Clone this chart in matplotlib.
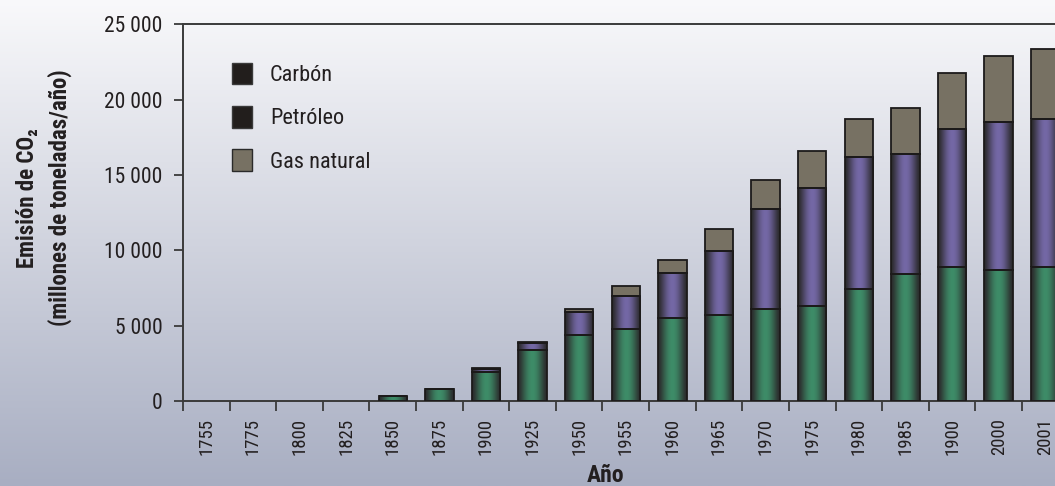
import numpy as np
import matplotlib
matplotlib.use("Agg")
import matplotlib.pyplot as plt
from matplotlib import font_manager
from matplotlib.patches import Patch
from matplotlib.colors import to_rgb

# --- data (millions of tonnes of CO2 per year) ---
years = ["1755", "1775", "1800", "1825", "1850", "1875", "1900", "1925", "1950",
         "1955", "1960", "1965", "1970", "1975", "1980", "1985", "1900", "2000", "2001"]
carbon = [0, 0, 0, 0, 300, 780, 1950, 3410, 4360,
          4810, 5480, 5720, 6120, 6320, 7410, 8450, 8910, 8680, 8910]
petroleo = [0, 0, 0, 0, 30, 20, 200, 450, 1520,
            2165, 2990, 4220, 6630, 7830, 8770, 7920, 9170, 9850, 9810]
gas = [0, 0, 0, 0, 0, 0, 40, 30, 250,
       650, 860, 1450, 1910, 2430, 2550, 3100, 3710, 4390, 4620]
yticks = [0, 5000, 10000, 15000, 20000, 25000]
ytick_labels = ["0", "5 000", "10 000", "15 000", "20 000", "25 000"]
series_names = ["Carbón", "Petróleo", "Gas natural"]

# --- font choice: a narrow sans if one is installed ---
available = {f.name for f in font_manager.fontManager.ttflist}
base = "DejaVu Sans"
for cand in ["Liberation Sans Narrow", "DejaVu Sans Condensed", "Roboto Condensed",
             "Open Sans Condensed", "Noto Sans"]:
    if cand in available:
        base = cand
        break
plt.rcParams["font.family"] = [base, "DejaVu Sans"]
TXT = "#231f20"

W, H = 1055, 486
fig = plt.figure(figsize=(W / 100, H / 100), dpi=100)

# page background: vertical gradient
bg = fig.add_axes([0, 0, 1, 1], zorder=-10)
top_c = np.array(to_rgb("#f9f9fb"))
bot_c = np.array(to_rgb("#a8aec2"))
t = np.linspace(0, 1, 256)[:, None]
grad = (top_c[None, :] * (1 - t) + bot_c[None, :] * t)[:, None, :]
bg.imshow(grad, aspect="auto", extent=[0, 1, 0, 1])
bg.set_axis_off()

x0, x1 = 183, 1068.6
yb, yt = 401, 24.3
ax = fig.add_axes([x0 / W, (H - yb) / H, (x1 - x0) / W, (yb - yt) / H])
ax.set_facecolor("none")

n = len(years)
x = np.arange(n)
bw = 0.61

dark = np.array(to_rgb("#2b2a2c"))


def hgrad(center):
    c = np.array(to_rgb(center))
    s = np.linspace(0, 1, 64)
    w = np.sin(np.pi * s) ** 1.4
    row = dark[None, :] * (1 - w[:, None]) + c[None, :] * w[:, None]
    return row[None, :, :]


carbon_a = np.array(carbon, float)
pet_a = np.array(petroleo, float)
gas_a = np.array(gas, float)

layers = [
    (carbon_a, np.zeros(n), "#3e8c68", True),
    (pet_a, carbon_a, "#7468a6", True),
    (gas_a, carbon_a + pet_a, "#777163", False),
]
for vals, bottom, col, shaded in layers:
    bars = ax.bar(x, vals, bw, bottom=bottom, color=col, edgecolor="none",
                  linewidth=0, zorder=2)
    if shaded:
        img = hgrad(col)
        for r in bars:
            if r.get_height() <= 0:
                continue
            im = ax.imshow(img, aspect="auto", zorder=2.5,
                           extent=[r.get_x(), r.get_x() + r.get_width(),
                                   r.get_y(), r.get_y() + r.get_height()])
            im.set_clip_path(r)
    outlines = ax.bar(x, vals, bw, bottom=bottom, fill=False, edgecolor="#1c1a1a",
                      linewidth=1.3, zorder=3)
    for r in outlines:
        if r.get_height() <= 0:
            r.set_visible(False)

ax.set_xlim(-0.5, n - 0.5)
ax.set_ylim(0, 25000)

# axes frame
for side in ["left", "bottom", "top"]:
    ax.spines[side].set_color("#3a3a3a")
    ax.spines[side].set_linewidth(1.4)
ax.spines["right"].set_visible(False)

ax.set_yticks(yticks)
ax.set_yticklabels(ytick_labels, fontsize=15.5, color=TXT)
ax.tick_params(axis="y", length=6.5, width=1.3, color="#3a3a3a", pad=8)

# x ticks: marks between categories, labels centred on categories
ax.set_xticks(np.arange(n + 1) - 0.5)
ax.set_xticklabels([])
ax.tick_params(axis="x", which="major", length=7.2, width=1.3, color="#3a3a3a")
ax.set_xticks(x, minor=True)
ax.set_xticklabels(years, minor=True, rotation=90, fontsize=13.5, color=TXT)
ax.tick_params(axis="x", which="minor", length=0, pad=12)

# axis titles
fig.text(606 / W, 1 - 475 / H, "Año", ha="center", va="center",
         fontsize=17, fontweight="bold", color=TXT)
fig.text(27 / W, 1 - 198 / H, "Emisión de CO₂", rotation=90, ha="center",
         va="center", fontsize=16.5, fontweight="bold", color=TXT)
fig.text(60 / W, 1 - 198 / H, "(millones de toneladas/año)", rotation=90,
         ha="center", va="center", fontsize=16.5, fontweight="bold", color=TXT)

# legend
handles = [Patch(facecolor="#221e1c", edgecolor="#3a3a3a", linewidth=1.0),
           Patch(facecolor="#221e1c", edgecolor="#3a3a3a", linewidth=1.0),
           Patch(facecolor="#777163", edgecolor="#2a2a2a", linewidth=1.0)]
leg = ax.legend(handles, series_names, loc="upper left",
                bbox_to_anchor=(232 / W, 1 - 63 / H), bbox_transform=fig.transFigure,
                frameon=False, fontsize=16, handlelength=0.9, handleheight=1.1,
                handletextpad=0.8, labelspacing=0.9, borderpad=0, borderaxespad=0)
for txt in leg.get_texts():
    txt.set_color(TXT)

fig.savefig("out.png", dpi=100)
